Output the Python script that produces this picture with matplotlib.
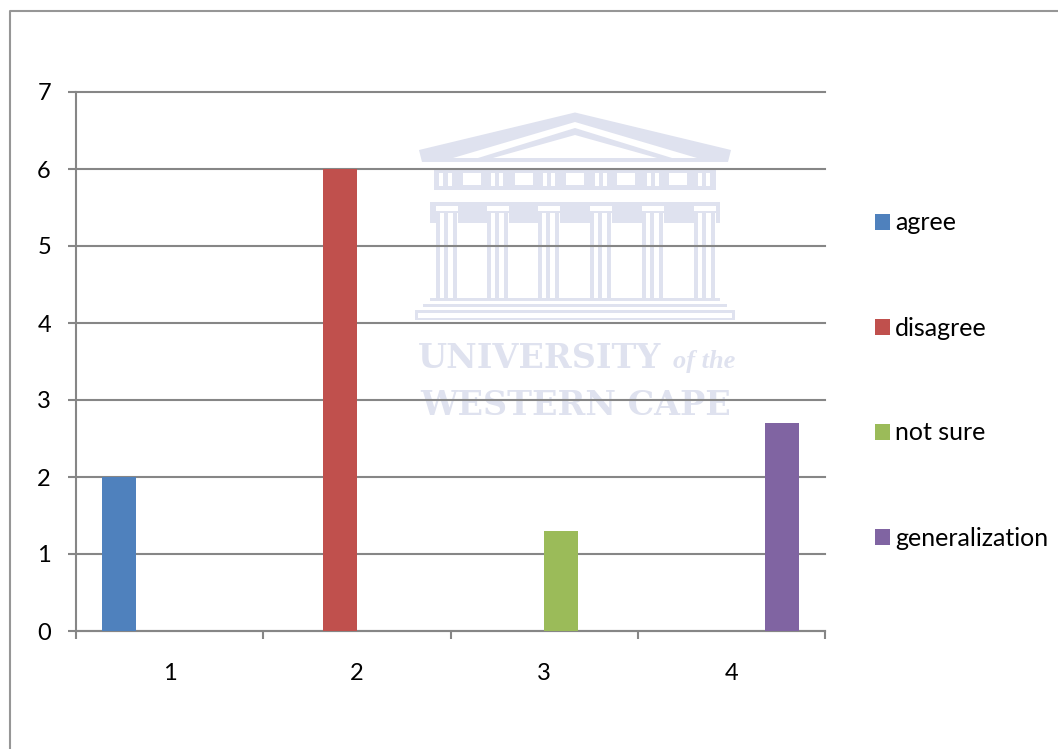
"""
plot.py

Bar chart of survey responses per question group, with the university crest
printed faintly behind the plot area.
"""

# Importing libraries
import matplotlib

matplotlib.use("Agg")
import matplotlib.pyplot as plt
from matplotlib.patches import Polygon, Rectangle

FIG_W, FIG_H = 1058, 749

categories = [1, 2, 3, 4]
series_names = ["agree", "disagree", "not sure", "generalization"]
agree = [2, 0, 0, 0]
disagree = [0, 6, 0, 0]
not_sure = [0, 0, 1.3, 0]
generalization = [0, 0, 0, 2.7]
y_ticks = [0, 1, 2, 3, 4, 5, 6, 7]

series_colors = ["#4f81bd", "#c0504d", "#9bbb59", "#8064a2"]
line_color = "#868686"
crest_color = "#dfe2ef"

plt.rcParams["font.family"] = ["Lato", "DejaVu Sans"]


def rect(ax, x0, y0, x1, y1, color):
    ax.add_patch(Rectangle((x0, y0), x1 - x0, y1 - y0, fc=color, ec="none"))


def draw_crest(ax):
    """
    Draws the faint building and university name on a pixel-scaled axes.

    Args:
        ax (Axes): background axes with x and y limits set in pixels

    Returns:
        None
    """
    # Roof, in nested layers
    roof = [(575, 112.5), (731, 150), (728, 162), (422, 162), (419, 150)]
    ax.add_patch(Polygon(roof, fc=crest_color, ec="none"))
    ax.add_patch(Polygon([(575, 122), (697, 158), (453, 158)], fc="white", ec="none"))
    ax.add_patch(Polygon([(575, 128), (672, 158), (478, 158)], fc=crest_color, ec="none"))
    ax.add_patch(Polygon([(575, 135), (657, 158), (493, 158)], fc="white", ec="none"))

    # Frieze with its windows and triglyphs
    rect(ax, 430, 162, 720, 168, "white")
    rect(ax, 434, 168, 716, 190, crest_color)
    for x0 in [463, 515, 566, 617, 669]:
        rect(ax, x0, 173, x0 + 18, 185, "white")
    for x0 in [439, 448, 491, 499, 543, 551, 595, 603, 647, 655, 698, 706]:
        rect(ax, x0, 173, x0 + 4, 186, "white")

    # Band under the frieze, then the heavier entablature
    rect(ax, 438, 190, 712, 202, "white")
    rect(ax, 430, 202, 720, 223, crest_color)

    # Column groups with their capitals
    for cx in [447, 498, 549, 601, 653, 705]:
        rect(ax, cx - 11, 206, cx + 11, 210.5, "white")
        rect(ax, cx - 11, 213, cx + 11, 298, "white")
        for offset in [-11, -3, 6]:
            rect(ax, cx + offset, 213, cx + offset + 4, 298, crest_color)

    # Steps
    rect(ax, 430, 298, 720, 301, crest_color)
    rect(ax, 423, 304, 727, 307, crest_color)
    rect(ax, 415, 310, 735, 313, crest_color)
    rect(ax, 415, 313, 418, 320, crest_color)
    rect(ax, 732, 313, 735, 320, crest_color)
    rect(ax, 415, 318, 735, 320, crest_color)

    # University name
    ax.text(418, 368, "UNIVERSITY", family="DejaVu Serif", weight="bold",
            fontsize=24, color=crest_color, va="baseline", ha="left")
    ax.text(735, 368, "of the", family="Liberation Serif", style="italic",
            weight="bold", fontsize=19, color=crest_color, va="baseline", ha="right")
    ax.text(420, 415, "WESTERN CAPE", family="DejaVu Serif", weight="bold",
            fontsize=24, color=crest_color, va="baseline", ha="left")


def plot_responses():
    """
    This function will plot the grouped response bars and the legend.

    Args:
        None

    Returns:
        None
    """
    fig = plt.figure(figsize=(FIG_W / 100, FIG_H / 100), dpi=100)

    # Background layer with the page border and crest
    back = fig.add_axes([0, 0, 1, 1], zorder=0)
    back.set_xlim(0, FIG_W)
    back.set_ylim(FIG_H, 0)
    back.axis("off")
    draw_crest(back)
    back.plot([9.5, 9.5, FIG_W], [FIG_H, 11, 11], color="#969696", lw=1.5)

    left, right, top, bottom = 76, 825, 92, 631
    ax = fig.add_axes([left / FIG_W, 1 - bottom / FIG_H, (right - left) / FIG_W,
                       (bottom - top) / FIG_H], zorder=1)
    ax.patch.set_alpha(0)

    # Four series side by side in each category, gap of 1.5 bar widths
    all_series = [agree, disagree, not_sure, generalization]
    width = 1 / 5.5
    for i, values in enumerate(all_series):
        xs = [c - 0.5 + (i - 1.5) * width for c in categories]
        ax.bar(xs, values, width=width, color=series_colors[i],
               label=series_names[i], zorder=3)

    ax.set_xlim(0, len(categories))
    ax.set_ylim(0, 7)
    ax.set_yticks(y_ticks)
    ax.set_xticks(range(len(categories) + 1))
    ax.set_xticklabels([])
    ax.set_xticks([c - 0.5 for c in categories], minor=True)
    ax.set_xticklabels([str(c) for c in categories], minor=True)
    ax.grid(True, axis="y", color=line_color, lw=1.5, zorder=1, clip_on=False)
    ax.set_axisbelow(True)

    for side in ["top", "right"]:
        ax.spines[side].set_visible(False)
    for side in ["left", "bottom"]:
        ax.spines[side].set_color(line_color)
        ax.spines[side].set_linewidth(1.5)
    ax.tick_params(axis="both", which="major", length=6, width=1.5, color=line_color,
                   labelsize=17, labelcolor="black")
    ax.tick_params(axis="y", pad=12)
    ax.tick_params(axis="x", which="minor", length=0, labelsize=17, pad=23,
                   labelcolor="black")

    ax.legend(loc="center left", bbox_to_anchor=(875 / FIG_W, 1 - 380.5 / FIG_H),
              bbox_transform=fig.transFigure, frameon=False, fontsize=18,
              handlelength=0.6, handleheight=0.6, handletextpad=0.2,
              labelspacing=3.28, borderpad=0, borderaxespad=0)

    fig.savefig("out.png", dpi=100)


plot_responses()
